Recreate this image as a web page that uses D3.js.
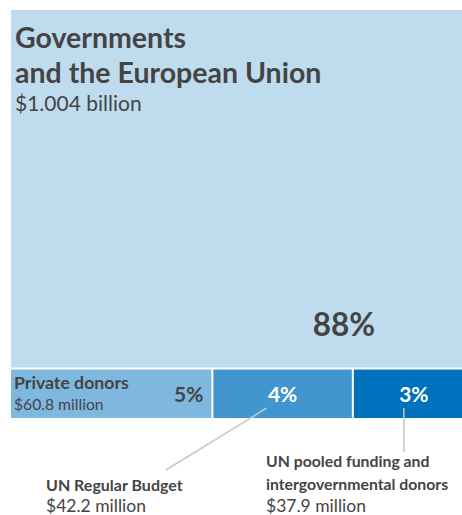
<!DOCTYPE html>
<html>
<head>
<meta charset="utf-8">
<script src="https://cdn.jsdelivr.net/npm/d3@7"></script>
<style>
  html, body { margin: 0; padding: 0; background: #fff; }
  svg { display: block; }
  text { font-family: Lato, "Open Sans", sans-serif; fill: #444; }
</style>
</head>
<body>
<script>
// ---- data ----
const topCategory = "Governments and the European Union";
const topValue = 1004;          // $ million
const topAmount = "$1.004 billion";
const topPercent = "88%";

const otherCategories = ["Private donors", "UN Regular Budget", "UN pooled funding and intergovernmental donors"];
const otherValues = [60.8, 42.2, 37.9]; // $ million
const otherAmounts = ["$60.8 million", "$42.2 million", "$37.9 million"];
const otherPercents = ["5%", "4%", "3%"];

const colors = ["#bfdcee", "#7fb8df", "#4196cf", "#0071bc"];

// ---- layout ----
const W = 462, H = 515;
const svg = d3.select("body").append("svg").attr("width", W).attr("height", H);

const rootData = {
  name: "root",
  children: [
    { name: topCategory, value: topValue, idx: 0 },
    { name: "others", children: otherCategories.map((c, i) => ({ name: c, value: otherValues[i], idx: i + 1 })) }
  ]
};

const root = d3.hierarchy(rootData).sum(d => d.value || 0);
d3.treemap()
  .size([467, 408])
  .paddingInner(2)
  .tile((node, x0, y0, x1, y1) => node.depth === 0
    ? d3.treemapSlice(node, x0, y0, x1, y1)
    : d3.treemapDice(node, x0, y0, x1, y1))(root);

const g = svg.append("g").attr("transform", "translate(11,10)");
const leaves = root.leaves();

g.selectAll("rect").data(leaves).join("rect")
  .attr("x", d => d.x0).attr("y", d => d.y0)
  .attr("width", d => d.x1 - d.x0).attr("height", d => d.y1 - d.y0)
  .attr("fill", d => colors[d.data.idx]);

const gov = leaves.find(d => d.data.idx === 0);
const priv = leaves.find(d => d.data.idx === 1);
const unrb = leaves.find(d => d.data.idx === 2);
const pool = leaves.find(d => d.data.idx === 3);

// Governments labels
const t1 = g.append("text").attr("font-weight", 700).attr("font-size", 28.5);
t1.append("tspan").attr("x", gov.x0 + 4).attr("y", 37.5).text("Governments");
t1.append("tspan").attr("x", gov.x0 + 4).attr("y", 72.5).text("and the European Union");
g.append("text").attr("x", gov.x0 + 4).attr("y", 101).attr("font-size", 21).text(topAmount);
g.append("text").attr("x", 364).attr("y", 326).attr("text-anchor", "end")
  .attr("font-size", 31.5).attr("font-weight", 700).text(topPercent);

// Private donors
g.append("text").attr("x", priv.x0 + 3).attr("y", priv.y0 + 19)
  .attr("font-size", 17.7).attr("font-weight", 700).text(otherCategories[0]);
g.append("text").attr("x", priv.x0 + 3).attr("y", priv.y0 + 40)
  .attr("font-size", 15.7).text(otherAmounts[0]);
g.append("text").attr("x", priv.x1 - 8).attr("y", priv.y0 + 32).attr("text-anchor", "end")
  .attr("font-size", 21).attr("font-weight", 700).text(otherPercents[0]);

// 4% and 3%
[unrb, pool].forEach((d, k) => {
  const cx = k === 0 ? (d.x0 + d.x1) / 2 : d.x0 + 60;
  g.append("text").attr("x", cx).attr("y", d.y0 + 32).attr("text-anchor", "middle")
    .attr("font-size", 21).attr("font-weight", 700).style("fill", "#fff").text(otherPercents[k + 1]);
});

// leader lines
const ux = (unrb.x0 + unrb.x1) / 2 - 16;
g.append("line").attr("x1", ux).attr("y1", unrb.y1 - 10).attr("x2", 155).attr("y2", 460)
  .attr("stroke", "#c8c8c8").attr("stroke-width", 1.5);
const px = pool.x0 + 50;
g.append("line").attr("x1", px).attr("y1", pool.y1 - 10).attr("x2", px).attr("y2", 442)
  .attr("stroke", "#c8c8c8").attr("stroke-width", 1.5);

// outside labels
svg.append("text").attr("x", 46).attr("y", 491).attr("font-size", 16).attr("font-weight", 700).text(otherCategories[1]);
svg.append("text").attr("x", 46).attr("y", 511.5).attr("font-size", 17.5).text(otherAmounts[1]);

const pl = svg.append("text").attr("font-size", 15.8).attr("font-weight", 700);
pl.append("tspan").attr("x", 266).attr("y", 467).text("UN pooled funding and");
pl.append("tspan").attr("x", 266).attr("y", 489.5).text("intergovernmental donors");
svg.append("text").attr("x", 266).attr("y", 511.5).attr("font-size", 17.5).text(otherAmounts[2]);
</script>
</body>
</html>
